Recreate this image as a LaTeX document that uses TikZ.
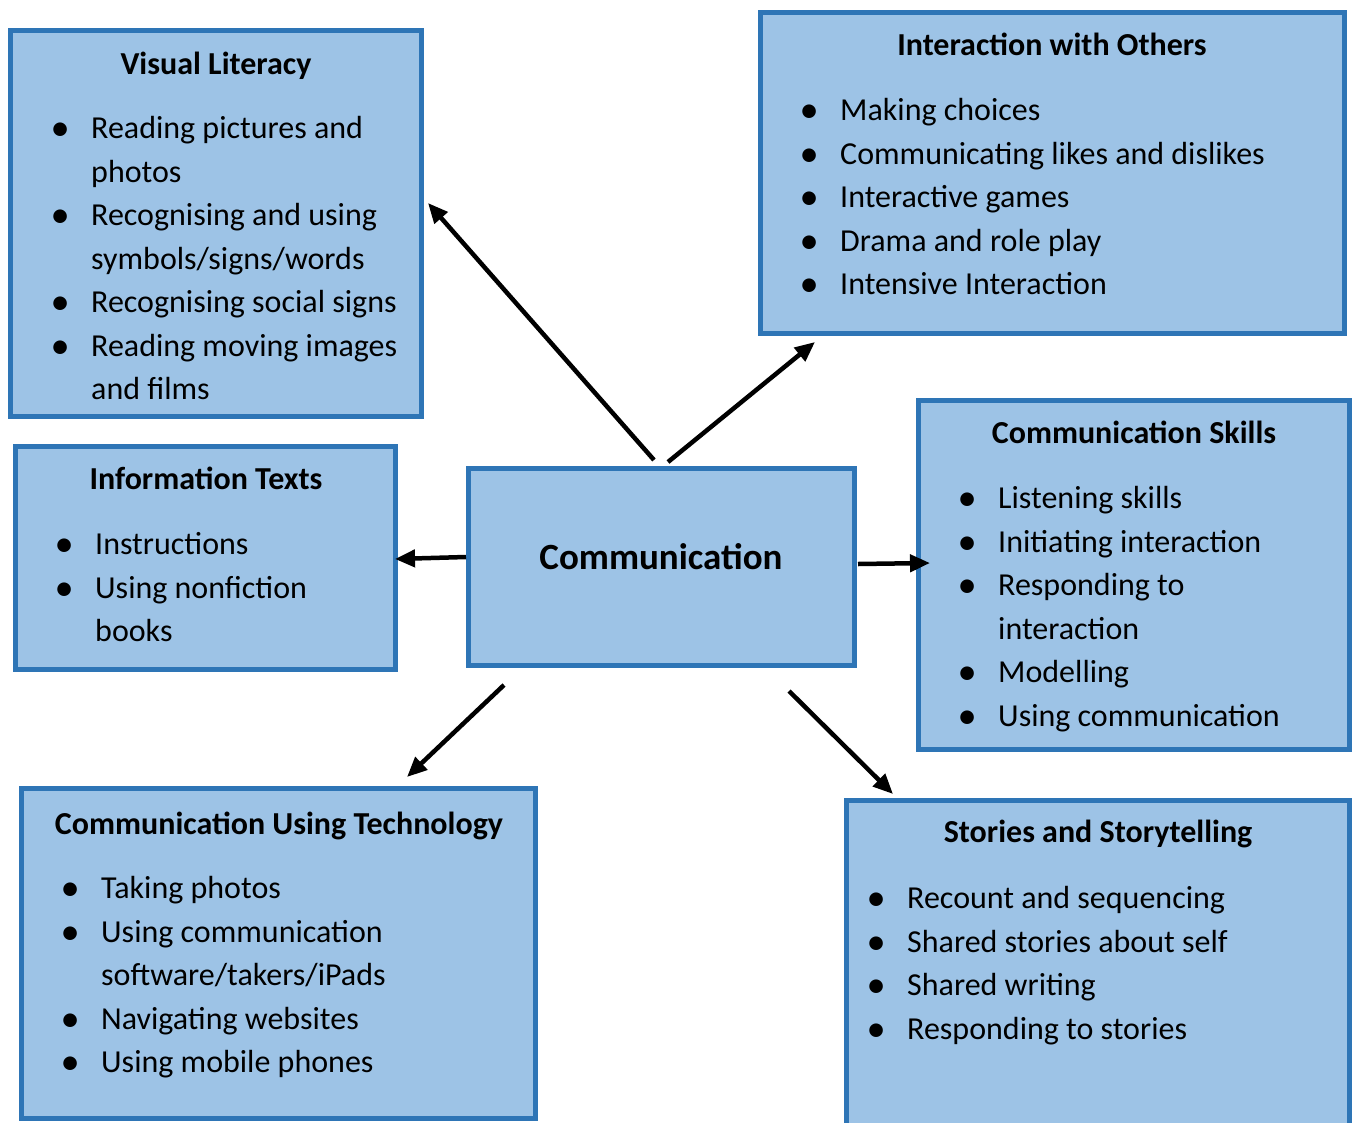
\documentclass[tikz,border=0pt]{standalone}
\usepackage{fontspec}
\setmainfont{Carlito}
\usepackage{graphicx}
\usepackage{tikz}
\usetikzlibrary{positioning, arrows.meta}
\definecolor{skyFill}{HTML}{9DC3E6}
\definecolor{oceanLine}{HTML}{2E75B6}
% bullet sitting on the left edge, text starts 31pt further right
\newcommand{\dotitem}{\makebox[31pt][l]{\makebox[0pt]{\raisebox{-2pt}{\scalebox{1.2}{\textbullet}}}}}

\begin{document}
\begin{tikzpicture}[
  x=1pt, y=-1pt,
  >={Triangle[length=20pt, width=17pt]},
  arr/.style={->, line width=4.5pt},
  box/.style={rectangle, draw=oceanLine, fill=skyFill, line width=5pt, inner sep=0pt},
  head/.style={anchor=base, inner sep=0pt, yshift=-1.5pt, font=\fontsize{32}{38}\selectfont\bfseries},
  items/.style={anchor=base west, inner sep=0pt, yshift=-1.5pt, font=\fontsize{32}{43.5}\selectfont}
]
  \useasboundingbox (0,0) rectangle (1357,1122);
  \clip (0,0) rectangle (1357,1122);

  % --- Cajas ---
  \node[box, minimum width=411pt, minimum height=386pt] (vl)      at (216,223.5)  {};
  \node[box, minimum width=584pt, minimum height=321pt] (others)  at (1052.5,173) {};
  \node[box, minimum width=380pt, minimum height=223pt] (info)    at (205.5,558)  {};
  \node[box, minimum width=386pt, minimum height=197pt] (comm)    at (661.5,567)  {};
  \node[box, minimum width=431pt, minimum height=349pt] (skills)  at (1134,575)   {};
  \node[box, minimum width=514pt, minimum height=330pt] (tech)    at (278.5,953)  {};
  \node[box, minimum width=503pt, minimum height=360pt] (stories) at (1098,980)   {};

  % --- Visual Literacy ---
  \node[head] (vl-title) at (216,73) {Visual Literacy};
  \node[items] (vl-list) at (60,137) {\begin{tabular}[t]{@{}l@{}l@{}}
    \dotitem & Reading pictures and\\
             & photos\\
    \dotitem & Recognising and using\\
             & symbols/signs/words\\
    \dotitem & Recognising social signs\\
    \dotitem & Reading moving images\\
             & and films
  \end{tabular}};

  % --- Interaction with Others ---
  \node[head] (others-title) at (1052,54) {Interaction with Others};
  \node[items] (others-list) at (809,119) {\begin{tabular}[t]{@{}l@{}l@{}}
    \dotitem & Making choices\\
    \dotitem & Communicating likes and dislikes\\
    \dotitem & Interactive games\\
    \dotitem & Drama and role play\\
    \dotitem & Intensive Interaction
  \end{tabular}};

  % --- Information Texts ---
  \node[head] (info-title) at (206,488) {Information Texts};
  \node[items] (info-list) at (64,553) {\begin{tabular}[t]{@{}l@{}l@{}}
    \dotitem & Instructions\\
    \dotitem & Using nonfiction\\
             & books
  \end{tabular}};

  % --- Centro ---
  \node[anchor=base, inner sep=0pt, yshift=-1pt, font=\fontsize{37}{44}\selectfont\bfseries]
    (comm-label) at (661,568) {Communication};

  % --- Communication Skills ---
  \node[head] (skills-title) at (1134,442) {Communication Skills};
  \node[items] (skills-list) at (967,507) {\begin{tabular}[t]{@{}l@{}l@{}}
    \dotitem & Listening skills\\
    \dotitem & Initiating interaction\\
    \dotitem & Responding to\\
             & interaction\\
    \dotitem & Modelling\\
    \dotitem & Using communication
  \end{tabular}};

  % --- Communication Using Technology ---
  \node[head] (tech-title) at (279,833) {Communication Using Technology};
  \node[items] (tech-list) at (70,897) {\begin{tabular}[t]{@{}l@{}l@{}}
    \dotitem & Taking photos\\
    \dotitem & Using communication\\
             & software/takers/iPads\\
    \dotitem & Navigating websites\\
    \dotitem & Using mobile phones
  \end{tabular}};

  % --- Stories and Storytelling ---
  \node[head] (stories-title) at (1098,841) {Stories and Storytelling};
  \node[items] (stories-list) at (876,907) {\begin{tabular}[t]{@{}l@{}l@{}}
    \dotitem & Recount and sequencing\\
    \dotitem & Shared stories about self\\
    \dotitem & Shared writing\\
    \dotitem & Responding to stories
  \end{tabular}};

  % --- Flechas ---
  \coordinate (vl-from)      at (654,460);  \coordinate (vl-to)      at (428,203);
  \coordinate (others-from)  at (668,462);  \coordinate (others-to)  at (815,342);
  \coordinate (info-from)    at (466,557);  \coordinate (info-to)    at (395,559);
  \coordinate (skills-from)  at (858,564);  \coordinate (skills-to)  at (930,563);
  \coordinate (tech-from)    at (504,685);  \coordinate (tech-to)    at (407,777);
  \coordinate (stories-from) at (789,691);  \coordinate (stories-to) at (893,794);

  \draw[arr] (vl-from) -- (vl-to);
  \draw[arr] (others-from) -- (others-to);
  \draw[arr] (info-from) -- (info-to);
  \draw[arr] (skills-from) -- (skills-to);
  \draw[arr] (tech-from) -- (tech-to);
  \draw[arr] (stories-from) -- (stories-to);
\end{tikzpicture}
\end{document}
